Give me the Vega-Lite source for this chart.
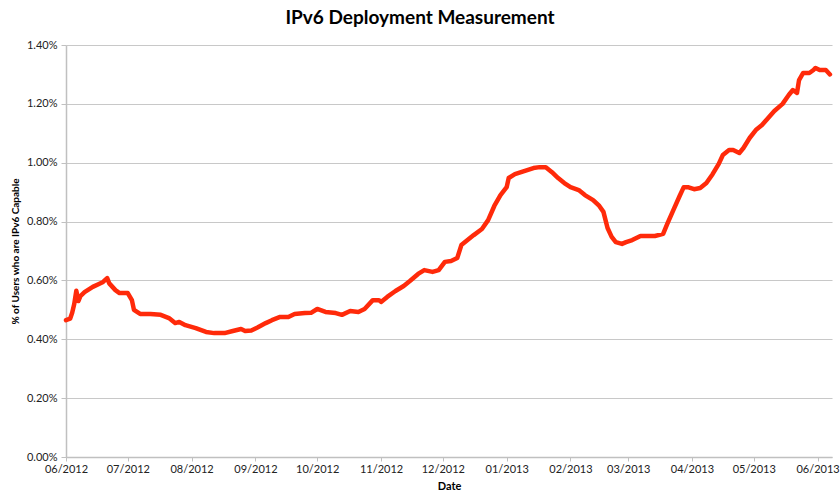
{
  "$schema": "https://vega.github.io/schema/vega-lite/v6.json",
  "width": 766,
  "height": 412,
  "autosize": {"type": "none"},
  "padding": {"left": 66, "top": 45, "right": 8, "bottom": 40},
  "background": "white",
  "title": {
    "text": "IPv6 Deployment Measurement",
    "font": "Lato",
    "fontSize": 19,
    "fontWeight": "bold",
    "color": "#000000",
    "anchor": "middle",
    "dx": -29,
    "offset": 11
  },
  "config": {
    "view": {"stroke": null},
    "axis": {
      "labelFont": "Lato",
      "titleFont": "Lato",
      "labelColor": "#222222",
      "titleColor": "#000000",
      "domainColor": "#c0c0c0",
      "tickColor": "#c0c0c0",
      "gridColor": "#c8c8c8",
      "domainWidth": 1.5,
      "gridWidth": 1.2
    }
  },
  "data": {
    "values": [
      {"date": "2012-06-01", "v": 0.00465},
      {"date": "2012-06-03", "v": 0.0047},
      {"date": "2012-06-04", "v": 0.0049},
      {"date": "2012-06-05", "v": 0.0052},
      {"date": "2012-06-06", "v": 0.00565},
      {"date": "2012-06-07", "v": 0.0053},
      {"date": "2012-06-08", "v": 0.00547},
      {"date": "2012-06-10", "v": 0.0056},
      {"date": "2012-06-14", "v": 0.00578},
      {"date": "2012-06-17", "v": 0.00588},
      {"date": "2012-06-19", "v": 0.00595},
      {"date": "2012-06-21", "v": 0.00608},
      {"date": "2012-06-22", "v": 0.0059},
      {"date": "2012-06-25", "v": 0.00567},
      {"date": "2012-06-27", "v": 0.00557},
      {"date": "2012-07-01", "v": 0.00557},
      {"date": "2012-07-03", "v": 0.00533},
      {"date": "2012-07-04", "v": 0.005},
      {"date": "2012-07-07", "v": 0.00486},
      {"date": "2012-07-12", "v": 0.00486},
      {"date": "2012-07-17", "v": 0.00483},
      {"date": "2012-07-21", "v": 0.00472},
      {"date": "2012-07-24", "v": 0.00455},
      {"date": "2012-07-26", "v": 0.00459},
      {"date": "2012-07-29", "v": 0.00448},
      {"date": "2012-08-03", "v": 0.00438},
      {"date": "2012-08-08", "v": 0.00425},
      {"date": "2012-08-12", "v": 0.00421},
      {"date": "2012-08-17", "v": 0.00421},
      {"date": "2012-08-21", "v": 0.00428},
      {"date": "2012-08-25", "v": 0.00435},
      {"date": "2012-08-27", "v": 0.00428},
      {"date": "2012-08-30", "v": 0.0043},
      {"date": "2012-09-02", "v": 0.0044},
      {"date": "2012-09-06", "v": 0.00455},
      {"date": "2012-09-09", "v": 0.00465},
      {"date": "2012-09-13", "v": 0.00476},
      {"date": "2012-09-17", "v": 0.00476},
      {"date": "2012-09-20", "v": 0.00486},
      {"date": "2012-09-25", "v": 0.00489},
      {"date": "2012-09-28", "v": 0.0049},
      {"date": "2012-10-01", "v": 0.00503},
      {"date": "2012-10-05", "v": 0.00493},
      {"date": "2012-10-10", "v": 0.00489},
      {"date": "2012-10-13", "v": 0.00483},
      {"date": "2012-10-17", "v": 0.00496},
      {"date": "2012-10-21", "v": 0.00493},
      {"date": "2012-10-24", "v": 0.00503},
      {"date": "2012-10-28", "v": 0.00533},
      {"date": "2012-10-31", "v": 0.00533},
      {"date": "2012-11-01", "v": 0.00527},
      {"date": "2012-11-04", "v": 0.00544},
      {"date": "2012-11-08", "v": 0.00564},
      {"date": "2012-11-12", "v": 0.00581},
      {"date": "2012-11-15", "v": 0.00598},
      {"date": "2012-11-19", "v": 0.00622},
      {"date": "2012-11-22", "v": 0.00635},
      {"date": "2012-11-26", "v": 0.00629},
      {"date": "2012-11-29", "v": 0.00635},
      {"date": "2012-12-02", "v": 0.00663},
      {"date": "2012-12-05", "v": 0.00666},
      {"date": "2012-12-08", "v": 0.00676},
      {"date": "2012-12-10", "v": 0.0072},
      {"date": "2012-12-13", "v": 0.00737},
      {"date": "2012-12-16", "v": 0.00754},
      {"date": "2012-12-20", "v": 0.00775},
      {"date": "2012-12-23", "v": 0.00805},
      {"date": "2012-12-26", "v": 0.00853},
      {"date": "2012-12-29", "v": 0.0089},
      {"date": "2013-01-01", "v": 0.00917},
      {"date": "2013-01-02", "v": 0.00948},
      {"date": "2013-01-05", "v": 0.00961},
      {"date": "2013-01-08", "v": 0.00968},
      {"date": "2013-01-11", "v": 0.00975},
      {"date": "2013-01-14", "v": 0.00982},
      {"date": "2013-01-17", "v": 0.00985},
      {"date": "2013-01-20", "v": 0.00985},
      {"date": "2013-01-23", "v": 0.00968},
      {"date": "2013-01-26", "v": 0.00948},
      {"date": "2013-01-29", "v": 0.00931},
      {"date": "2013-02-01", "v": 0.00917},
      {"date": "2013-02-05", "v": 0.00907},
      {"date": "2013-02-08", "v": 0.0089},
      {"date": "2013-02-12", "v": 0.00873},
      {"date": "2013-02-15", "v": 0.00853},
      {"date": "2013-02-17", "v": 0.00833},
      {"date": "2013-02-19", "v": 0.00778},
      {"date": "2013-02-21", "v": 0.00748},
      {"date": "2013-02-23", "v": 0.0073},
      {"date": "2013-02-26", "v": 0.00724},
      {"date": "2013-02-28", "v": 0.0073},
      {"date": "2013-03-03", "v": 0.00737},
      {"date": "2013-03-07", "v": 0.00751},
      {"date": "2013-03-11", "v": 0.00751},
      {"date": "2013-03-14", "v": 0.00751},
      {"date": "2013-03-18", "v": 0.00758},
      {"date": "2013-03-20", "v": 0.00792},
      {"date": "2013-03-23", "v": 0.0084},
      {"date": "2013-03-26", "v": 0.00887},
      {"date": "2013-03-28", "v": 0.00917},
      {"date": "2013-03-30", "v": 0.00917},
      {"date": "2013-04-02", "v": 0.0091},
      {"date": "2013-04-05", "v": 0.00914},
      {"date": "2013-04-08", "v": 0.00931},
      {"date": "2013-04-11", "v": 0.00961},
      {"date": "2013-04-14", "v": 0.00996},
      {"date": "2013-04-16", "v": 0.01026},
      {"date": "2013-04-19", "v": 0.01043},
      {"date": "2013-04-21", "v": 0.01043},
      {"date": "2013-04-24", "v": 0.01033},
      {"date": "2013-04-26", "v": 0.0105},
      {"date": "2013-04-29", "v": 0.01084},
      {"date": "2013-05-02", "v": 0.01111},
      {"date": "2013-05-05", "v": 0.01128},
      {"date": "2013-05-08", "v": 0.01152},
      {"date": "2013-05-11", "v": 0.01176},
      {"date": "2013-05-15", "v": 0.012},
      {"date": "2013-05-18", "v": 0.0123},
      {"date": "2013-05-20", "v": 0.01247},
      {"date": "2013-05-22", "v": 0.01237},
      {"date": "2013-05-23", "v": 0.01281},
      {"date": "2013-05-25", "v": 0.01305},
      {"date": "2013-05-28", "v": 0.01305},
      {"date": "2013-05-30", "v": 0.01315},
      {"date": "2013-05-31", "v": 0.01322},
      {"date": "2013-06-02", "v": 0.01315},
      {"date": "2013-06-05", "v": 0.01315},
      {"date": "2013-06-07", "v": 0.013}
    ]
  },
  "mark": {"type": "line", "color": "#ff2a0a", "strokeWidth": 4.5, "strokeJoin": "round", "strokeCap": "round"},
  "encoding": {
    "x": {
      "field": "date",
      "type": "temporal",
      "scale": {"type": "utc", "domain": ["2012-06-01", "2013-06-08"]},
      "axis": {
        "title": "Date",
        "titleFontSize": 11,
        "titleFontWeight": "bold",
        "titlePadding": 6,
        "labelFontSize": 11,
        "labelPadding": 2,
        "labelFlush": false,
        "tickSize": 4,
        "grid": false,
        "labelExpr": "utcFormat(datum.value, '%m/%Y')",
        "labelOverlap": false,
        "values": [
          {"year": 2012, "month": 6, "date": 1, "utc": true},
          {"year": 2012, "month": 7, "date": 1, "utc": true},
          {"year": 2012, "month": 8, "date": 1, "utc": true},
          {"year": 2012, "month": 9, "date": 1, "utc": true},
          {"year": 2012, "month": 10, "date": 1, "utc": true},
          {"year": 2012, "month": 11, "date": 1, "utc": true},
          {"year": 2012, "month": 12, "date": 1, "utc": true},
          {"year": 2013, "month": 1, "date": 1, "utc": true},
          {"year": 2013, "month": 2, "date": 1, "utc": true},
          {"year": 2013, "month": 3, "date": 1, "utc": true},
          {"year": 2013, "month": 4, "date": 1, "utc": true},
          {"year": 2013, "month": 5, "date": 1, "utc": true},
          {"year": 2013, "month": 6, "date": 1, "utc": true}
        ]
      }
    },
    "y": {
      "field": "v",
      "type": "quantitative",
      "scale": {"domain": [0, 0.014], "nice": false},
      "axis": {
        "title": "% of Users who are IPv6 Capable",
        "titleFontSize": 10,
        "titleFontWeight": "bold",
        "titlePadding": 6,
        "labelFontSize": 11,
        "labelPadding": 4,
        "tickSize": 5,
        "format": ".2%",
        "values": [0, 0.002, 0.004, 0.006, 0.008, 0.01, 0.012, 0.014],
        "grid": true
      }
    }
  }
}
